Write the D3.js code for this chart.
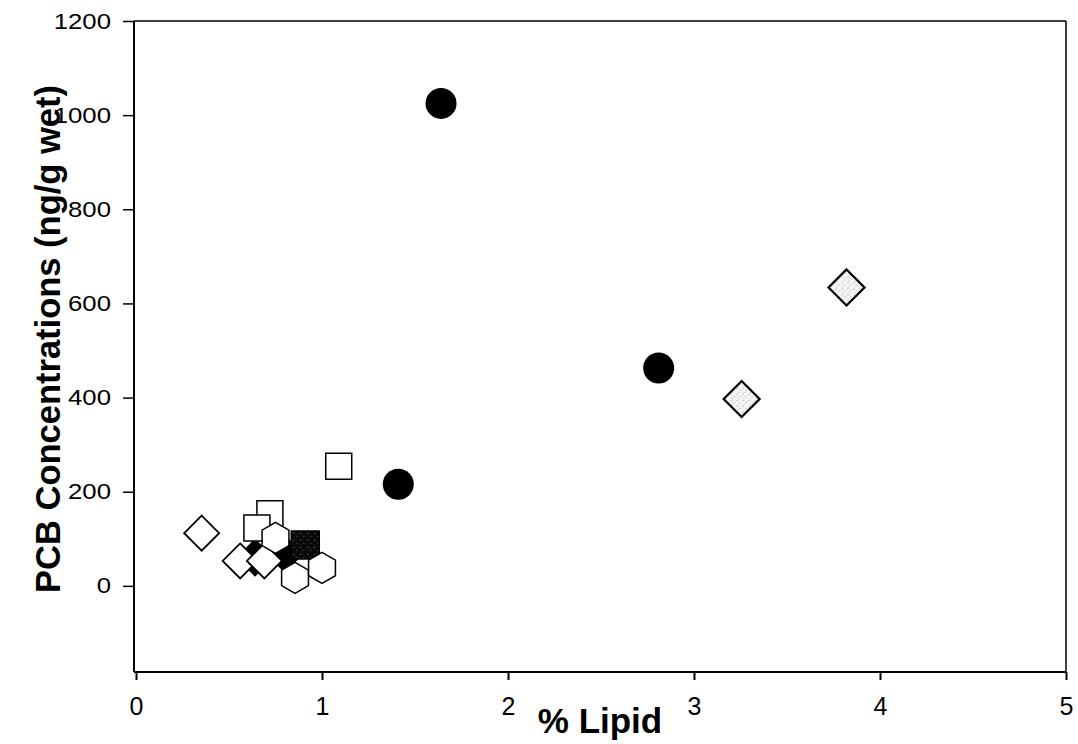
<!DOCTYPE html>
<html>
<head>
<meta charset="utf-8">
<script src="https://cdn.jsdelivr.net/npm/d3@7"></script>
<style>
  html, body { margin: 0; padding: 0; background: #fff; }
  svg { display: block; }
</style>
</head>
<body>
<svg id="chart" width="1078" height="744"></svg>
<script>
// PCB concentration vs. lipid content, one array pair per marker group
const filledCircleLipid = [1.64, 2.81, 1.41];
const filledCirclePCB   = [1025, 463, 216];

const stippledDiamondLipid = [3.82, 3.256];
const stippledDiamondPCB   = [634, 397];

const openSquareLipid = [1.09, 0.72, 0.65];
const openSquarePCB   = [254, 153, 123];

const filledDiamondLipid = [0.64, 0.80];
const filledDiamondPCB   = [60, 68];

const filledSquareLipid = [0.91];
const filledSquarePCB   = [87];

const openDiamondLipid = [0.353, 0.56, 0.69];
const openDiamondPCB   = [112, 53, 53];

const hexagonLipid = [0.75, 0.855, 1.0];
const hexagonPCB   = [102, 17, 38];

const xTickValues = [0, 1, 2, 3, 4, 5];
const yTickValues = [0, 200, 400, 600, 800, 1000, 1200];

const xTitle = "% Lipid";
const yTitle = "PCB Concentrations (ng/g wet)";

const svg = d3.select("#chart");
const plot = { left: 134, right: 1066, top: 21, bottom: 672 };

const x = d3.scaleLinear().domain([0, 5]).range([136, 1066]);
const y = d3.scaleLinear().domain([-183, 1200]).range([plot.bottom, plot.top]);

const font = "'Liberation Sans', Arial, Helvetica, sans-serif";

// speckled fill used by the grey diamonds and the dark square
const defs = svg.append("defs");
const light = defs.append("pattern").attr("id", "speckleLight")
  .attr("patternUnits", "userSpaceOnUse").attr("width", 6).attr("height", 6);
light.append("rect").attr("width", 6).attr("height", 6).attr("fill", "#f4f4f4");
light.append("rect").attr("x", 1).attr("y", 1).attr("width", 1).attr("height", 1).attr("fill", "#999");
light.append("rect").attr("x", 4).attr("y", 3).attr("width", 1).attr("height", 1).attr("fill", "#aaa");
light.append("rect").attr("x", 2).attr("y", 5).attr("width", 1).attr("height", 1).attr("fill", "#bbb");

const dark = defs.append("pattern").attr("id", "speckleDark")
  .attr("patternUnits", "userSpaceOnUse").attr("width", 7).attr("height", 7);
dark.append("rect").attr("width", 7).attr("height", 7).attr("fill", "#0a0a0a");
dark.append("rect").attr("x", 2).attr("y", 2).attr("width", 1).attr("height", 1).attr("fill", "#777");
dark.append("rect").attr("x", 5).attr("y", 5).attr("width", 1).attr("height", 1).attr("fill", "#555");

// axes
const yAxis = d3.axisLeft(y).tickValues(yTickValues).tickSize(11).tickPadding(12)
  .tickFormat(d3.format("d"));
const gy = svg.append("g").attr("transform", `translate(${plot.left},0)`).call(yAxis);
gy.select(".domain").remove();
gy.selectAll(".tick line").attr("stroke", "#000").attr("stroke-width", 1.5);
gy.selectAll(".tick text")
  .attr("font-family", font).attr("font-size", 22).attr("fill", "#000")
  .attr("x", -23 / 1.17)
  .attr("transform", "scale(1.17,1)");

const xAxis = d3.axisBottom(x).tickValues(xTickValues).tickSize(8).tickPadding(0)
  .tickFormat(d3.format("d"));
const gx = svg.append("g").attr("transform", `translate(0,${plot.bottom})`).call(xAxis);
gx.select(".domain").remove();
gx.selectAll(".tick line").attr("stroke", "#000").attr("stroke-width", 2);
gx.selectAll(".tick text")
  .attr("font-family", font).attr("font-size", 25).attr("fill", "#000")
  .attr("y", 34).attr("dy", "0.35em");

// plot frame
const frame = svg.append("g").attr("fill", "none").attr("stroke", "#000");
frame.append("line").attr("x1", plot.left).attr("x2", plot.right)
  .attr("y1", plot.top).attr("y2", plot.top).attr("stroke-width", 1.5);
frame.append("line").attr("x1", plot.right).attr("x2", plot.right)
  .attr("y1", plot.top).attr("y2", plot.bottom).attr("stroke-width", 1.5);
frame.append("line").attr("x1", plot.left).attr("x2", plot.left)
  .attr("y1", plot.top).attr("y2", plot.bottom).attr("stroke-width", 2);
frame.append("line").attr("x1", plot.left).attr("x2", plot.right)
  .attr("y1", plot.bottom).attr("y2", plot.bottom).attr("stroke-width", 2);

// marker shape builders
const diamond = r => `M0,${-r}L${r},0L0,${r}L${-r},0Z`;
const square = s => `M${-s / 2},${-s / 2}h${s}v${s}h${-s}Z`;
const hexagon = r => {
  const pts = d3.range(6).map(i => {
    const a = Math.PI / 2 + i * Math.PI / 3;
    return [r * Math.cos(a), r * Math.sin(a)];
  });
  return "M" + pts.map(p => p.join(",")).join("L") + "Z";
};

function drawGroup(xs, ys, pathD, fill, stroke, sw) {
  svg.append("g").selectAll("path")
    .data(xs.map((v, i) => [v, ys[i]]))
    .join("path")
    .attr("transform", d => `translate(${x(d[0])},${y(d[1])})`)
    .attr("d", pathD)
    .attr("fill", fill)
    .attr("stroke", stroke)
    .attr("stroke-width", sw)
    .attr("stroke-linejoin", "miter");
}

drawGroup(filledDiamondLipid, filledDiamondPCB, diamond(18), "#000", "#000", 1.5);
drawGroup(filledSquareLipid, filledSquarePCB, square(28), "url(#speckleDark)", "#000", 1.5);
drawGroup(openSquareLipid, openSquarePCB, square(26), "#fff", "#000", 1.5);
drawGroup(openDiamondLipid, openDiamondPCB, diamond(17.5), "#fff", "#000", 1.8);
drawGroup(hexagonLipid, hexagonPCB, hexagon(15.5), "#fff", "#000", 1.5);

svg.append("g").selectAll("circle")
  .data(filledCircleLipid.map((v, i) => [v, filledCirclePCB[i]]))
  .join("circle")
  .attr("cx", d => x(d[0])).attr("cy", d => y(d[1]))
  .attr("r", 15.5).attr("fill", "#000");

drawGroup(stippledDiamondLipid, stippledDiamondPCB, diamond(18), "url(#speckleLight)", "#000", 2.2);

// axis titles
svg.append("text")
  .attr("x", 600).attr("y", 733)
  .attr("text-anchor", "middle")
  .attr("font-family", font).attr("font-weight", "bold").attr("font-size", 35)
  .attr("fill", "#000")
  .text(xTitle);

svg.append("text")
  .attr("transform", "translate(60,339) rotate(-90)")
  .attr("text-anchor", "middle")
  .attr("font-family", font).attr("font-weight", "bold").attr("font-size", 34.5)
  .attr("fill", "#000")
  .text(yTitle);
</script>
</body>
</html>
